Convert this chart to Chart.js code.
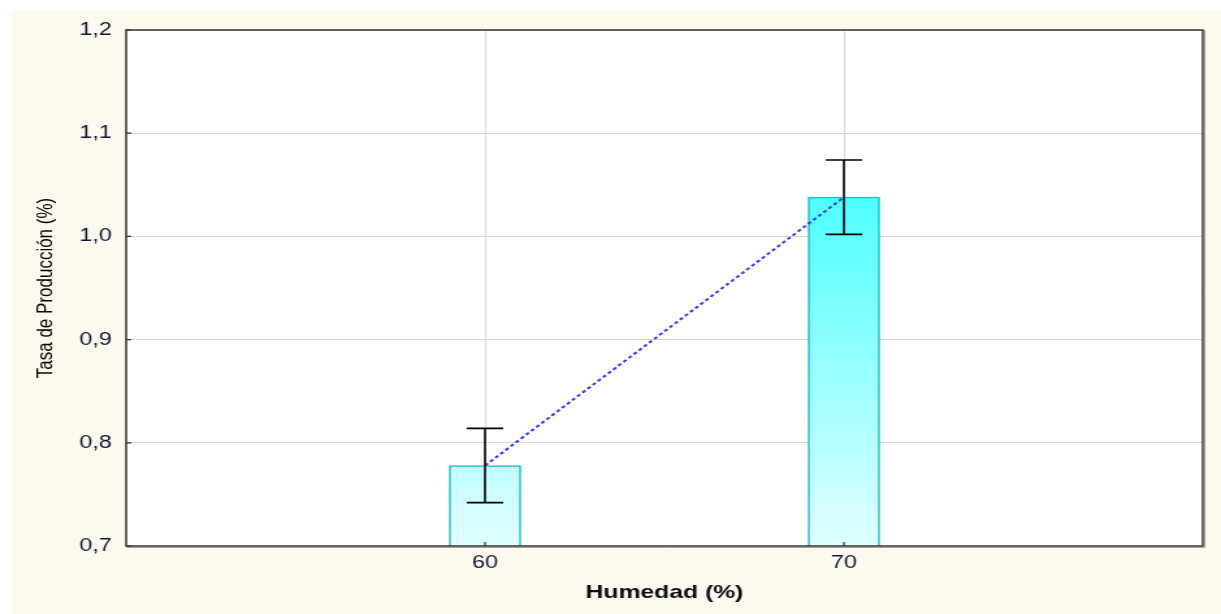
<!DOCTYPE html>
<html>
<head>
<meta charset="utf-8">
<script src="https://cdn.jsdelivr.net/npm/chart.js@4.4.0/dist/chart.umd.min.js"></script>
<style>
html, body { margin: 0; padding: 0; background: #fff; overflow: hidden; }
#grafico { display: block; }
</style>
</head>
<body>
<canvas id="grafico" width="939" height="614" style="width:1221px;height:614px"></canvas>
<script>
// datos
const humedad = [60, 70];
const tasa = [0.778, 1.038];
const errInf = [0.742, 1.002];
const errSup = [0.814, 1.074];
const xTicks = [60, 70];
const yMin = 0.7, yMax = 1.2, yPaso = 0.1;

Chart.defaults.font.family = "'Liberation Sans', Arial, sans-serif";

// fondo crema fuera del area del grafico
const fondo = {
	id: 'fondo',
	beforeDraw(chart) {
		const ctx = chart.ctx;
		ctx.save();
		ctx.fillStyle = '#ffffff';
		ctx.fillRect(0, 0, chart.width, chart.height);
		ctx.fillStyle = '#fef9ee';
		ctx.fillRect(9, 10, chart.width - 9, chart.height - 10);
		const a = chart.chartArea;
		ctx.fillStyle = '#ffffff';
		ctx.fillRect(a.left, a.top, a.right - a.left, a.bottom - a.top);
		ctx.restore();
	}
};

// marco, marcas interiores y barras de error
const marco = {
	id: 'marco',
	afterDatasetsDraw(chart) {
		const ctx = chart.ctx;
		const a = chart.chartArea;
		const x = chart.scales.x, y = chart.scales.y;
		ctx.save();
		// barras de error
		ctx.strokeStyle = '#000';
		ctx.lineWidth = 1.6;
		humedad.forEach((h, i) => {
			const px = x.getPixelForValue(h);
			const t = y.getPixelForValue(errSup[i]);
			const b = y.getPixelForValue(errInf[i]);
			ctx.beginPath();
			ctx.moveTo(px, t); ctx.lineTo(px, b);
			ctx.moveTo(px - 14, t); ctx.lineTo(px + 14, t);
			ctx.moveTo(px - 14, b); ctx.lineTo(px + 14, b);
			ctx.stroke();
		});
		// marco
		ctx.strokeStyle = '#333333';
		ctx.lineWidth = 1.5;
		ctx.strokeRect(a.left, a.top, a.right - a.left, a.bottom - a.top);
		ctx.strokeStyle = '#8a8a8a';
		ctx.lineWidth = 1;
		ctx.beginPath();
		ctx.moveTo(a.right + 1.3, a.top); ctx.lineTo(a.right + 1.3, a.bottom + 1.3);
		ctx.lineTo(a.left, a.bottom + 1.3);
		ctx.stroke();
		// marcas
		ctx.strokeStyle = '#333333';
		ctx.lineWidth = 1.2;
		ctx.beginPath();
		for (let v = yMin; v <= yMax + 1e-9; v += yPaso) {
			const py = y.getPixelForValue(v);
			ctx.moveTo(a.left, py); ctx.lineTo(a.left + 4, py);
		}
		xTicks.forEach(v => {
			const px = x.getPixelForValue(v);
			ctx.moveTo(px, a.bottom); ctx.lineTo(px, a.bottom - 4);
		});
		ctx.stroke();
		ctx.restore();
	}
};

const puntos = humedad.map((h, i) => ({ x: h, y: tasa[i] }));

let config = {
	type: 'bar',
	data: {
		datasets: [
			{
				type: 'line',
				data: puntos,
				borderColor: '#3535ff',
				borderWidth: 2,
				borderDash: [3, 2.5],
				pointRadius: 0,
				fill: false,
				order: 0
			},
			{
				type: 'bar',
				data: puntos,
				backgroundColor: (c) => {
					const a = c.chart.chartArea;
					if (!a) return '#c0ffff';
					const g = c.chart.ctx.createLinearGradient(0, a.top, 0, a.bottom);
					g.addColorStop(0, '#08ffff');
					g.addColorStop(1, '#e2ffff');
					return g;
				},
				borderColor: '#1cbcbc',
				borderWidth: 1.5,
				barThickness: 55,
				order: 1
			}
		]
	},
	options: {
		responsive: false,
		devicePixelRatio: 1,
		animation: false,
		layout: { padding: { top: 30, right: 14, left: 0, bottom: 0 } },
		plugins: {
			legend: { display: false },
			tooltip: { enabled: false }
		},
		scales: {
			x: {
				type: 'linear',
				min: 50,
				max: 80,
				offset: false,
				afterBuildTicks: (s) => { s.ticks = xTicks.map(v => ({ value: v })); },
				afterFit: (s) => { s.height = 68; },
				grid: { offset: false, color: '#d6d6d6', lineWidth: 1, drawTicks: false },
				border: { display: false },
				ticks: { padding: 6, color: '#101838', font: { size: 18 } },
				title: {
					display: true,
					text: 'Humedad (%)',
					color: '#0c0c14',
					font: { size: 19, weight: 'bold' },
					padding: { top: 10, bottom: 10 }
				}
			},
			y: {
				min: yMin,
				max: yMax,
				beginAtZero: false,
				afterFit: (s) => { s.width = 97; },
				grid: { color: '#d6d6d6', lineWidth: 1, drawTicks: false },
				border: { display: false },
				ticks: {
					stepSize: yPaso,
					padding: 11,
					color: '#101838',
					font: { size: 18 },
					callback: (v) => Number(v).toFixed(1).replace('.', ',')
				},
				title: {
					display: true,
					text: 'Tasa de Producción (%)',
					color: '#000',
					font: { size: 17 },
					padding: { top: 25, bottom: 0 }
				}
			}
		}
	},
	plugins: [fondo, marco]
};

let grafico = new Chart(document.getElementById('grafico'), config);
</script>
</body>
</html>
